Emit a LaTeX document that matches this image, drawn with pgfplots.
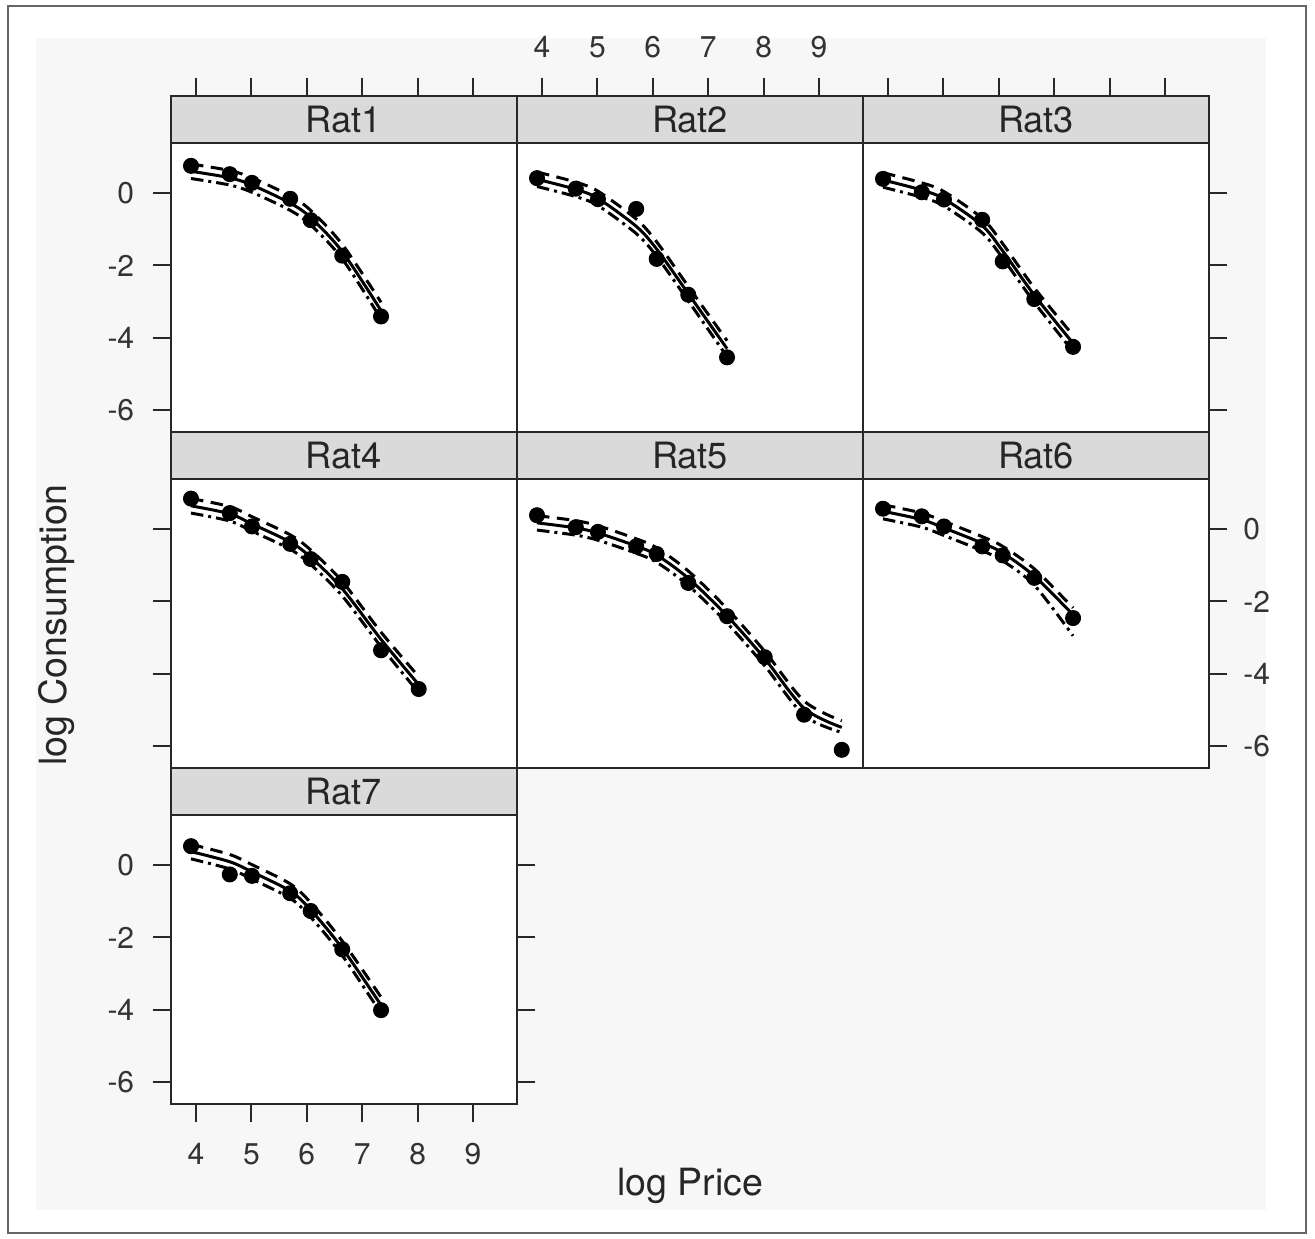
\documentclass[border=0pt]{standalone}
\usepackage{fontspec}
\setmainfont{TeX Gyre Heros}
\usepackage{pgfplots}
\usepackage{pgfplotstable}
\pgfplotsset{compat=1.18}

\pgfplotstableread{
x y fit up lo
3.91 0.75 0.60 0.80 0.40
4.61 0.52 0.42 0.62 0.22
5.01 0.28 0.22 0.42 0.02
5.70 -0.16 -0.28 -0.08 -0.48
6.07 -0.75 -0.68 -0.48 -0.88
6.64 -1.73 -1.62 -1.42 -1.82
7.34 -3.41 -3.25 -3.02 -3.48
}\ratA
\pgfplotstableread{
x y fit up lo
3.91 0.41 0.38 0.58 0.18
4.61 0.12 0.10 0.30 -0.10
5.01 -0.17 -0.15 0.05 -0.35
5.70 -0.44 -0.92 -0.72 -1.12
6.07 -1.82 -1.55 -1.35 -1.75
6.64 -2.81 -2.78 -2.58 -2.98
7.34 -4.54 -4.30 -4.08 -4.52
}\ratB
\pgfplotstableread{
x y fit up lo
3.91 0.39 0.36 0.56 0.16
4.61 0.02 0.08 0.28 -0.12
5.01 -0.18 -0.16 0.04 -0.36
5.70 -0.74 -0.90 -0.70 -1.10
6.07 -1.89 -1.60 -1.40 -1.80
6.64 -2.93 -2.82 -2.62 -3.02
7.34 -4.25 -4.15 -3.93 -4.38
}\ratC
\pgfplotstableread{
x y fit up lo
3.91 0.84 0.64 0.84 0.44
4.61 0.44 0.42 0.62 0.22
5.01 0.07 0.14 0.34 -0.06
5.70 -0.41 -0.36 -0.16 -0.56
6.07 -0.83 -0.78 -0.58 -0.98
6.64 -1.46 -1.65 -1.45 -1.85
7.34 -3.35 -3.05 -2.85 -3.25
8.02 -4.42 -4.30 -4.08 -4.52
}\ratD
\pgfplotstableread{
x y fit up lo
3.91 0.38 0.17 0.37 -0.03
4.61 0.05 0.03 0.23 -0.17
5.01 -0.08 -0.11 0.09 -0.31
5.70 -0.48 -0.47 -0.27 -0.67
6.07 -0.69 -0.72 -0.52 -0.92
6.64 -1.49 -1.36 -1.16 -1.56
7.34 -2.41 -2.40 -2.20 -2.60
8.02 -3.54 -3.58 -3.38 -3.78
8.73 -5.13 -4.95 -4.75 -5.15
9.41 -6.10 -5.48 -5.30 -5.62
}\ratE
\pgfplotstableread{
x y fit up lo
3.91 0.56 0.49 0.67 0.28
4.61 0.35 0.26 0.44 0.05
5.01 0.07 0.03 0.21 -0.18
5.70 -0.48 -0.39 -0.21 -0.60
6.07 -0.73 -0.66 -0.48 -0.88
6.64 -1.35 -1.30 -1.10 -1.55
7.34 -2.46 -2.37 -2.18 -2.95
}\ratF
\pgfplotstableread{
x y fit up lo
3.91 0.52 0.37 0.57 0.17
4.61 -0.26 0.09 0.29 -0.11
5.01 -0.30 -0.19 0.01 -0.39
5.70 -0.78 -0.72 -0.52 -0.92
6.07 -1.27 -1.24 -1.04 -1.44
6.64 -2.33 -2.30 -2.10 -2.50
7.34 -4.01 -3.87 -3.65 -4.10
}\ratG

\definecolor{stripgray}{RGB}{218,218,218}
\definecolor{bggray}{RGB}{247,247,247}
\definecolor{axgray}{RGB}{40,40,40}

\pgfplotsset{
  common/.style={
    scale only axis, width=138.4pt,
    xmin=3.549, xmax=9.794,
    axis line style={line width=0.8pt, axgray},
    tick style={line width=0.8pt, axgray},
    major tick length=7.2pt, tick align=outside,
    xtick=\empty, ytick=\empty,
    ticklabel style={font=\fontsize{12}{14}\selectfont, text=black!80},
    /pgf/number format/assume math mode=true,
  },
  panel/.style={common, height=115.6pt, ymin=-6.602, ymax=1.381,
    anchor=north west, axis background/.style={fill=white}},
  strip/.style={common, height=18.8pt, ymin=0, ymax=1, anchor=north west,
    axis background/.style={fill=stripgray}},
  yt/.style={ytick={-6,-4,-2,0}},
  xt/.style={xtick={4,5,6,7,8,9}},
  fitl/.style={black, line width=1.2pt, smooth, no marks},
  upl/.style={black, line width=1.2pt, smooth, no marks, dash pattern=on 5pt off 3pt},
  lol/.style={black, line width=1.2pt, smooth, no marks, dash pattern=on 5pt off 2pt on 1.2pt off 2pt},
  ptl/.style={only marks, mark=*, mark size=3pt, black},
}

\newcommand{\drawrat}[1]{%
  \addplot[lol] table[x=x,y=lo] {#1};
  \addplot[upl] table[x=x,y=up] {#1};
  \addplot[fitl] table[x=x,y=fit] {#1};
  \addplot[ptl] table[x=x,y=y] {#1};
}
\newcommand{\striptext}[1]{\node[font=\fontsize{14.5}{16}\selectfont, text=black!85] at (rel axis cs:0.5,0.5) {#1};}

\begin{document}
\begin{tikzpicture}
\begin{scope}[x=0.4pt,y=-0.4pt]
  \path (0,0) rectangle (1315,1239);
  \fill[bggray] (36,38) rectangle (1266,1210);
  \draw[line width=0.8pt, black!60] (8,6) rectangle (1306,1233);
  \node[font=\fontsize{15}{17}\selectfont, text=black!85] at (690,1186) {log Price};
  \node[font=\fontsize{15}{17}\selectfont, text=black!85, rotate=90] at (57,625) {log Consumption};
\end{scope}

% ---- strips ----
\begin{axis}[strip, at={(68.4pt,-38.4pt)}, xt, xtick pos=upper, xticklabels={}]
\striptext{Rat1}
\end{axis}
\begin{axis}[strip, at={(206.8pt,-38.4pt)}, xt, xtick pos=upper, xticklabel pos=upper, xticklabel style={yshift=4.5pt}]
\striptext{Rat2}
\end{axis}
\begin{axis}[strip, at={(345.2pt,-38.4pt)}, xt, xtick pos=upper, xticklabels={}]
\striptext{Rat3}
\end{axis}
\begin{axis}[strip, at={(68.4pt,-172.8pt)}]
\striptext{Rat4}
\end{axis}
\begin{axis}[strip, at={(206.8pt,-172.8pt)}]
\striptext{Rat5}
\end{axis}
\begin{axis}[strip, at={(345.2pt,-172.8pt)}]
\striptext{Rat6}
\end{axis}
\begin{axis}[strip, at={(68.4pt,-307.2pt)}]
\striptext{Rat7}
\end{axis}

% ---- panels ----
\begin{axis}[panel, at={(68.4pt,-57.2pt)}, yt, ytick pos=left, yticklabel style={xshift=-4pt}]
\drawrat{\ratA}
\end{axis}
\begin{axis}[panel, at={(206.8pt,-57.2pt)}]
\drawrat{\ratB}
\end{axis}
\begin{axis}[panel, at={(345.2pt,-57.2pt)}, yt, ytick pos=right, yticklabels={}]
\drawrat{\ratC}
\end{axis}
\begin{axis}[panel, at={(68.4pt,-191.6pt)}, yt, ytick pos=left, yticklabels={}]
\drawrat{\ratD}
\end{axis}
\begin{axis}[panel, at={(206.8pt,-191.6pt)}]
\drawrat{\ratE}
\end{axis}
\begin{axis}[panel, at={(345.2pt,-191.6pt)}, yt, ytick pos=right, yticklabel pos=right, yticklabel style={xshift=3pt}]
\drawrat{\ratF}
\end{axis}
\begin{axis}[panel, at={(68.4pt,-326pt)}, yt, ytick pos=both, yticklabel pos=left, yticklabel style={xshift=-4pt}, xt, xtick pos=lower, xticklabel style={yshift=-5pt}]
\drawrat{\ratG}
\end{axis}
\end{tikzpicture}
\end{document}
